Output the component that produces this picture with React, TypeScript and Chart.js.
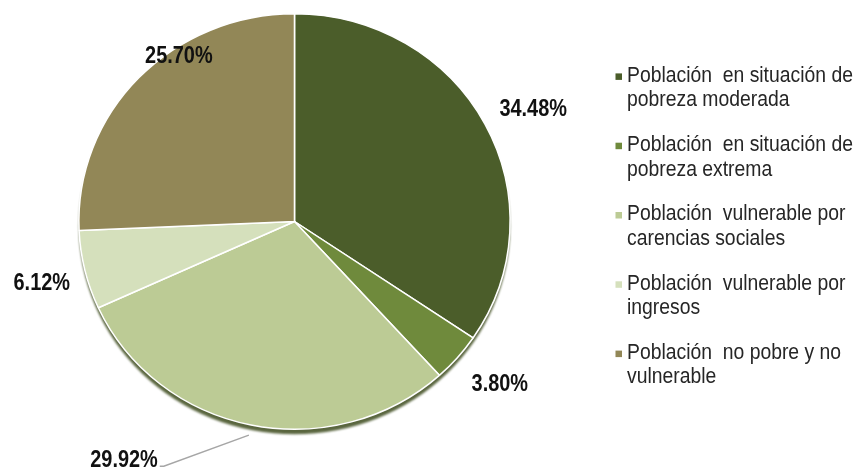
import React, { useEffect, useRef } from "react";
import { Chart, registerables } from "chart.js";

Chart.register(...registerables);

const categories: string[][] = [
  ["Población  en situación de", "pobreza moderada"],
  ["Población  en situación de", "pobreza extrema"],
  ["Población  vulnerable por", "carencias sociales"],
  ["Población  vulnerable por", "ingresos"],
  ["Población  no pobre y no", "vulnerable"],
];
const values = [34.48, 3.8, 29.92, 6.12, 25.7];
const valueLabels = ["34.48%", "3.80%", "29.92%", "6.12%", "25.70%"];
const colors = ["#4b5d2a", "#6f8a3c", "#bccb95", "#d5e0bc", "#928757"];

// label placement (style): angle offset (deg) from slice middle, radius factor
const labelPlacement = [
  { dAng: 2.0, rf: 1.231, leader: false },
  { dAng: -1.5, rf: 1.233, leader: false },
  { dAng: 15.6, rf: 1.325, leader: true },
  { dAng: -0.7, rf: 1.209, leader: false },
  { dAng: 12.3, rf: 0.96, leader: false },
];

const PIE_STRETCH_X = 1.038;
const FONT = '"Liberation Sans", Arial, sans-serif';

function drawScaledText(ctx: any, text: string, x: number, y: number, sx: number, align: string) {
  ctx.save();
  ctx.translate(x, y);
  ctx.scale(sx, 1);
  ctx.textAlign = align;
  ctx.fillText(text, 0, 0);
  ctx.restore();
}

const piePlugin = {
  id: "pieDecor",
  beforeDatasetsDraw(chart: any) {
    const meta = chart.getDatasetMeta(0);
    const arc = meta.data[0];
    if (!arc) return;
    const { x, y, outerRadius } = arc.getProps(["x", "y", "outerRadius"], true);
    const ctx = chart.ctx;
    ctx.save();
    ctx.translate(x, y);
    ctx.scale(PIE_STRETCH_X, 1);
    ctx.translate(-x, -y);
    // drop shadow under the pie
    ctx.save();
    ctx.filter = "blur(1px)";
    ctx.beginPath();
    ctx.arc(x, y + 5, outerRadius, 0, Math.PI * 2);
    ctx.fillStyle = "#5a663f";
    ctx.fill();
    ctx.restore();
  },
  afterDatasetsDraw(chart: any) {
    const ctx = chart.ctx;
    ctx.restore();
    const meta = chart.getDatasetMeta(0);
    ctx.save();
    ctx.font = `bold 24px ${FONT}`;
    ctx.fillStyle = "#111111";
    ctx.textBaseline = "middle";
    meta.data.forEach((el: any, i: number) => {
      const { x, y, outerRadius, startAngle, endAngle } = el.getProps(
        ["x", "y", "outerRadius", "startAngle", "endAngle"],
        true
      );
      const rx = outerRadius * PIE_STRETCH_X;
      const ry = outerRadius;
      const mid = (startAngle + endAngle) / 2;
      const p = labelPlacement[i];
      const a = mid + (p.dAng * Math.PI) / 180;
      const lx = x + Math.cos(a) * rx * p.rf;
      const ly = y + Math.sin(a) * ry * p.rf;
      if (p.leader) {
        const sx = x + Math.cos(mid) * rx * 1.05;
        const sy = y + Math.sin(mid) * ry * 1.05;
        ctx.beginPath();
        ctx.moveTo(sx, sy);
        ctx.lineTo(lx, ly);
        ctx.lineTo(lx - 4, ly);
        ctx.strokeStyle = "#a6a6a6";
        ctx.lineWidth = 1.5;
        ctx.stroke();
        drawScaledText(ctx, valueLabels[i], lx - 6, ly - 6, 0.83, "right");
      } else {
        drawScaledText(ctx, valueLabels[i], lx, ly, 0.83, "center");
      }
    });
    ctx.restore();
  },
};

const legendPlugin = {
  id: "customLegend",
  afterDraw(chart: any) {
    const ctx = chart.ctx;
    const markerX = 615.5;
    const textX = 627;
    const firstBaseline = 81.7;
    const itemGap = 69.3;
    const lineGap = 24.5;
    ctx.save();
    ctx.font = `21.5px ${FONT}`;
    ctx.textBaseline = "alphabetic";
    categories.forEach((lines, i) => {
      const by = firstBaseline + i * itemGap;
      ctx.fillStyle = colors[i];
      ctx.fillRect(markerX, by - 8.3, 6.5, 6.5);
      ctx.fillStyle = "#262626";
      lines.forEach((t, j) => {
        drawScaledText(ctx, t, textX, by + j * lineGap, 0.9, "left");
      });
    });
    ctx.restore();
  },
};

export default function App() {
  const ref = useRef<HTMLCanvasElement | null>(null);
  useEffect(() => {
    document.body.style.margin = "0";
    const canvas = ref.current!;
    const chart = new Chart(canvas, {
      type: "pie",
      data: {
        labels: categories.map((c) => c.join(" ")),
        datasets: [
          {
            data: values,
            backgroundColor: colors,
            borderColor: "#ffffff",
            borderWidth: 1.5,
          },
        ],
      },
      options: {
        responsive: false,
        animation: false,
        layout: { padding: { left: 86, right: 361, top: 13, bottom: 40 } },
        plugins: {
          legend: { display: false },
          tooltip: { enabled: false },
        },
      },
      plugins: [piePlugin, legendPlugin],
    });
    return () => chart.destroy();
  }, []);
  return (
    <div style={{ width: 864, height: 470, background: "#ffffff" }}>
      <canvas ref={ref} width={864} height={470} style={{ display: "block" }} />
    </div>
  );
}
